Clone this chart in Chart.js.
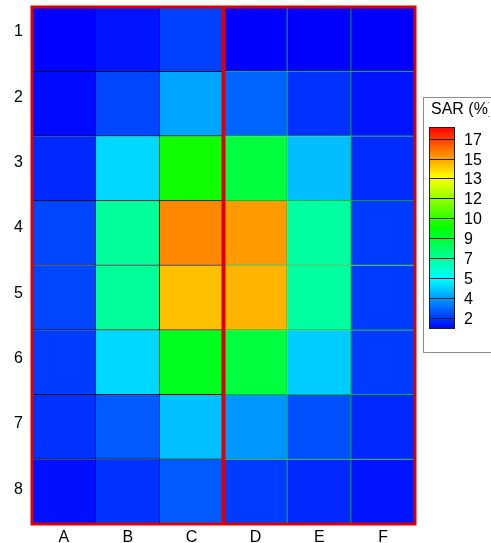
<!DOCTYPE html>
<html><head><meta charset="utf-8">
<script src="https://cdn.jsdelivr.net/npm/chart.js@4.4.0/dist/chart.umd.min.js"></script>
<style>html,body{margin:0;padding:0;background:#fff;overflow:hidden}#wrap{width:491px;height:543px;position:relative}</style>
</head><body><div id="wrap"><canvas id="c" width="491" height="543"></canvas></div>
<script>
const columns = ['A','B','C','D','E','F'];
const rows = [1,2,3,4,5,6,7,8];
const sarRow1 = [1.12, 1.43, 2.15, 1.10, 1.10, 1.10];
const sarRow2 = [1.26, 2.25, 3.82, 2.75, 1.92, 1.43];
const sarRow3 = [1.76, 4.66, 9.76, 8.51, 4.23, 1.84];
const sarRow4 = [2.25, 6.95, 15.66, 15.35, 6.86, 2.09];
const sarRow5 = [2.25, 6.95, 14.74, 14.92, 6.86, 2.09];
const sarRow6 = [2.09, 4.66, 9.00, 8.51, 4.48, 2.09];
const sarRow7 = [1.92, 2.58, 4.26, 3.57, 2.42, 1.76];
const sarRow8 = [1.36, 1.92, 2.58, 2.09, 1.76, 1.43];
const sarRows = [sarRow1, sarRow2, sarRow3, sarRow4, sarRow5, sarRow6, sarRow7, sarRow8];
const legendLevels = [2.0, 3.66, 5.32, 6.98, 8.64, 10.3, 11.96, 13.62, 15.28, 16.94];
const legendLabels = ['2','4','5','7','9','10','12','13','15','17'];
const legendTitle = 'SAR (%)';
const scaleMin = 1.1, scaleMax = 17.9;

function colorFor(v) {
  let t = (v - scaleMin) / (scaleMax - scaleMin);
  t = Math.max(0, Math.min(1, t));
  let r, g, b;
  if (t < 0.25) { r = 0; g = 255 * t / 0.25; b = 255; }
  else if (t < 0.5) { r = 0; g = 255; b = 255 * (1 - (t - 0.25) / 0.25); }
  else if (t < 0.75) { r = 255 * (t - 0.5) / 0.25; g = 255; b = 0; }
  else { r = 255; g = 255 * (1 - (t - 0.75) / 0.25); b = 0; }
  return `rgb(${Math.round(r)},${Math.round(g)},${Math.round(b)})`;
}

const FONT = 'Liberation Sans, Arial, sans-serif';

const datasets = rows.map((r, i) => ({
  label: 'Row ' + r,
  data: columns.map(() => [r - 0.5, r + 0.5]),
  backgroundColor: sarRows[i].map(colorFor),
  borderColor: columns.map((c, j) => j < 3 ? '#111111' : '#10b020'),
  borderWidth: {top: 0, left: 0, right: 1, bottom: 1},
  borderSkipped: false,
  grouped: false,
  barPercentage: 1,
  categoryPercentage: 1,
  yAxisID: 'yData'
}));

const framePlugin = {
  id: 'frame',
  afterDatasetsDraw(chart) {
    const {ctx, chartArea: a, scales: {x}} = chart;
    ctx.save();
    ctx.strokeStyle = '#dd0000';
    ctx.lineWidth = 3;
    ctx.strokeRect(a.left, a.top, a.right - a.left, a.bottom - a.top);
    const xm = (x.getPixelForValue(2) + x.getPixelForValue(3)) / 2;
    ctx.lineWidth = 4;
    ctx.beginPath(); ctx.moveTo(xm, a.top); ctx.lineTo(xm, a.bottom); ctx.stroke();
    ctx.restore();
  }
};

const legendPlugin = {
  id: 'colorLegend',
  afterDraw(chart) {
    const ctx = chart.ctx;
    const box = {x: 423.5, y: 97.5, w: 100, h: 255};
    const bar = {x: 429, y: 127, w: 26, h: 202};
    ctx.save();
    ctx.fillStyle = '#fff';
    ctx.fillRect(box.x, box.y, box.w, box.h);
    ctx.strokeStyle = '#8c8c8c'; ctx.lineWidth = 1;
    ctx.strokeRect(box.x, box.y, box.w, box.h);
    ctx.fillStyle = '#000';
    ctx.font = '16px ' + FONT;
    ctx.textBaseline = 'middle'; ctx.textAlign = 'left';
    ctx.save();
    ctx.beginPath(); ctx.rect(box.x, box.y, 489 - box.x, box.h); ctx.clip();
    ctx.fillText(legendTitle, 431, 110);
    ctx.restore();
    for (let py = 0; py < bar.h; py++) {
      const v = scaleMax - (py + 0.5) / bar.h * (scaleMax - scaleMin);
      ctx.fillStyle = colorFor(v);
      ctx.fillRect(bar.x, bar.y + py, bar.w, 1);
    }
    ctx.strokeStyle = '#202020'; ctx.lineWidth = 1;
    legendLevels.forEach((lv, i) => {
      const yy = Math.round(bar.y + bar.h - (lv - scaleMin) / (scaleMax - scaleMin) * bar.h) + 0.5;
      ctx.beginPath(); ctx.moveTo(bar.x, yy); ctx.lineTo(bar.x + bar.w, yy); ctx.stroke();
      ctx.fillStyle = '#000';
      ctx.fillText(legendLabels[i], 464, yy + 1);
    });
    ctx.strokeRect(bar.x + 0.5, bar.y + 0.5, bar.w - 1, bar.h - 1);
    ctx.restore();
  }
};

new Chart(document.getElementById('c'), {
  type: 'bar',
  data: { labels: columns, datasets },
  options: {
    responsive: false,
    animation: false,
    events: [],
    layout: { padding: { top: 7, right: 76, bottom: 0, left: 0 } },
    plugins: { legend: { display: false }, tooltip: { enabled: false }, title: { display: false } },
    scales: {
      x: {
        type: 'category', offset: true,
        grid: { display: false, drawTicks: false }, border: { display: false },
        ticks: { font: { family: FONT, size: 16 }, color: '#000', padding: 4, maxRotation: 0 },
        afterFit: s => { s.height = 19; s.paddingLeft = 0; s.paddingRight = 0; }
      },
      y: {
        type: 'linear', reverse: true, min: 0.62, max: 8.53, position: 'left',
        grid: { display: false, drawTicks: false }, border: { display: false },
        afterBuildTicks: s => { s.ticks = rows.map(v => ({ value: v })); },
        ticks: { font: { family: FONT, size: 16 }, color: '#000', padding: 9, callback: v => String(v) },
        afterFit: s => { s.width = 32; s.paddingTop = 0; s.paddingBottom = 0; }
      },
      yData: { type: 'linear', reverse: true, min: 0.5, max: 8.5, display: false,
        afterFit: s => { s.paddingTop = 0; s.paddingBottom = 0; } }
    }
  },
  plugins: [framePlugin, legendPlugin]
});
</script>
</body></html>
